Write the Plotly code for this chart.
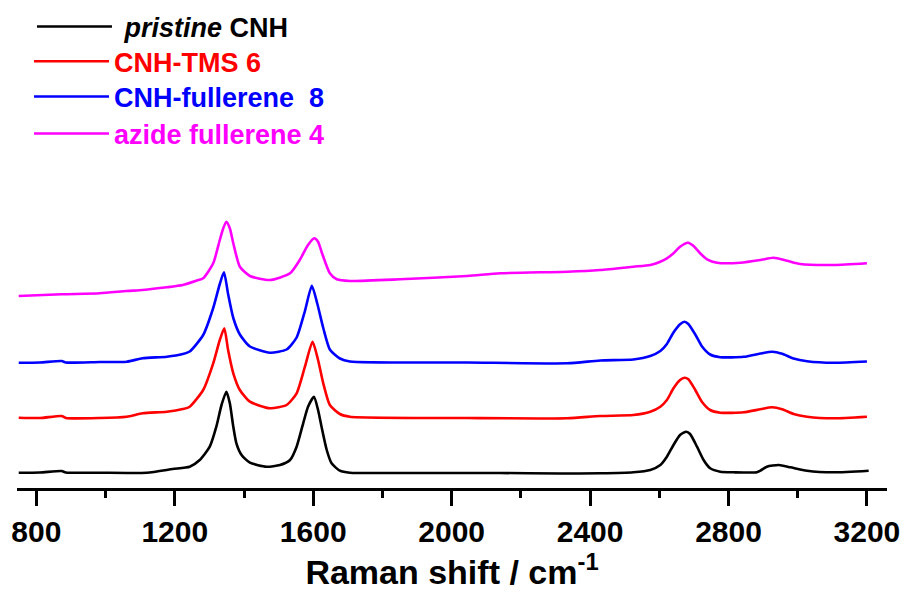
import plotly.graph_objects as go

# Raman shift (cm^-1) and intensity (a.u., curves stacked as drawn)
x_pristine = [749, 810, 873, 885, 983, 1119, 1194, 1243, 1272, 1301, 1320, 1335, 1349, 1359, 1369, 1378, 1393, 1417,
              1465, 1504, 1533, 1552, 1571, 1585, 1602, 1614, 1624, 1639, 1653, 1677, 1706, 1851, 2140, 2313,
              2429, 2525, 2574, 2603, 2622, 2641, 2660, 2678, 2689, 2709, 2728, 2747, 2776, 2815, 2882, 2892,
              2911, 2945, 2979, 3027, 3104, 3205]
y_pristine = [15.3, 15.5, 17.0, 15.5, 15.3, 15.3, 19.0, 21.3, 28.0, 41.3, 61.3, 83.0, 96.3, 84.7, 61.3, 44.7, 33.0, 25.3,
              21.3, 23.0, 28.0, 41.3, 64.7, 81.3, 91.3, 78.0, 61.3, 38.0, 24.7, 17.3, 15.3, 15.0, 15.0, 14.5,
              14.7, 15.7, 18.0, 23.0, 31.3, 43.0, 53.0, 56.3, 54.0, 41.3, 28.0, 19.7, 16.3, 15.7, 15.7, 17.3,
              21.3, 23.0, 20.7, 17.3, 15.7, 17.3]

x_tms = [749, 810, 873, 885, 983, 1061, 1107, 1177, 1223, 1243, 1282, 1311, 1330, 1343, 1354, 1369, 1388, 1417,
         1475, 1523, 1552, 1576, 1598, 1614, 1629, 1648, 1677, 1706, 2045, 2334, 2429, 2525, 2574, 2603, 2622,
         2641, 2660, 2673, 2684, 2704, 2723, 2747, 2776, 2844, 2892, 2926, 2955, 2988, 3027, 3104, 3200]
y_tms = [70.3, 70.0, 72.0, 70.0, 70.0, 71.3, 74.7, 76.3, 79.0, 81.3, 98.0, 124.7, 148.0, 159.7, 138.0, 114.7, 98.0, 86.3,
         79.7, 83.0, 94.7, 121.3, 146.3, 128.0, 104.7, 83.0, 74.0, 71.3, 70.0, 69.7, 72.0, 73.0, 76.3, 81.3, 88.0,
         99.7, 108.0, 110.3, 108.7, 98.0, 86.3, 78.0, 75.3, 75.7, 78.7, 80.7, 78.7, 74.0, 71.3, 69.7, 71.3]

x_fullerene = [749, 810, 873, 885, 983, 1061, 1107, 1177, 1223, 1243, 1282, 1311, 1330, 1342, 1354, 1369, 1388, 1417,
               1475, 1523, 1552, 1576, 1596, 1612, 1629, 1648, 1677, 1706, 2045, 2334, 2429, 2525, 2574, 2603, 2622,
               2641, 2660, 2673, 2684, 2704, 2723, 2747, 2776, 2844, 2892, 2927, 2955, 2988, 3027, 3104, 3200]
y_fullerene = [125.3, 125.5, 127.0, 125.5, 126.0, 126.3, 129.7, 131.3, 134.0, 136.5, 153.0, 180.0, 204.0, 215.8, 194.0, 170.0, 153.5, 141.5,
               135.3, 138.5, 150.5, 177.0, 202.3, 184.0, 160.0, 138.5, 129.5, 126.5, 125.5, 124.7, 127.5, 128.5, 132.0, 137.0, 144.0,
               155.5, 163.8, 166.3, 164.0, 153.5, 141.8, 133.5, 130.8, 131.2, 134.5, 136.3, 134.2, 129.5, 126.8, 125.2, 126.5]

x_azide = [749, 873, 983, 1061, 1107, 1177, 1223, 1264, 1282, 1311, 1330, 1340, 1349, 1359, 1369, 1388, 1417, 1475,
           1533, 1561, 1585, 1603, 1614, 1624, 1648, 1668, 1706, 1851, 2045, 2140, 2334, 2429, 2525, 2574, 2603,
           2622, 2641, 2660, 2683, 2699, 2718, 2738, 2767, 2834, 2892, 2930, 2969, 3007, 3104, 3200]
y_azide = [192.0, 193.7, 194.7, 197.0, 198.0, 200.7, 203.0, 207.5, 209.7, 224.7, 248.0, 259.7, 266.3, 259.7, 244.7, 221.3, 212.0, 208.0,
           214.7, 228.0, 243.0, 249.7, 246.3, 236.3, 214.7, 208.7, 207.0, 208.7, 212.0, 214.7, 216.3, 218.0, 221.3, 223.0, 226.3,
           229.7, 234.7, 241.3, 245.3, 242.0, 234.7, 228.7, 225.3, 225.3, 228.0, 230.3, 227.3, 224.0, 223.0, 224.7]

series_names = ["\u00a0<i>pristine</i> CNH", "CNH-TMS 6", "CNH-fullerene  8", "azide fullerene 4"]
series_colors = ["#000000", "#ff0000", "#0000ff", "#ff00ff"]
series_x = [x_pristine, x_tms, x_fullerene, x_azide]
series_y = [y_pristine, y_tms, y_fullerene, y_azide]
legend_ids = ["legend", "legend2", "legend3", "legend4"]

tick_vals = [800, 1200, 1600, 2000, 2400, 2800, 3200]
tick_text = ["800", "1200", "1600", "2000", "2400", "2800", "3200"]

fig = go.Figure()
for name, color, xs, ys, lg in zip(series_names, series_colors, series_x, series_y, legend_ids):
    fig.add_trace(go.Scatter(x=xs, y=ys, mode="lines", legend=lg,
                             name=f'<span style="color:{color}">{name}</span>',
                             line=dict(color=color, width=2.6, shape="spline", smoothing=0.6)))

# one legend box per entry so each entry sits where the reference puts it
legend_pos = [(0.0172, 0.9447), (0.0138, 0.8736), (0.0138, 0.8012), (0.0138, 0.7254)]
legend_layout = {}
for lg, (lx, ly) in zip(legend_ids, legend_pos):
    legend_layout[lg] = dict(x=lx, y=ly, xanchor="left", yanchor="middle",
                             font=dict(size=27, weight="bold"), itemwidth=75,
                             bgcolor="rgba(0,0,0,0)", borderwidth=0)

fig.update_layout(
    width=908, height=592,
    margin=dict(l=17, r=21, t=0, b=104),
    paper_bgcolor="white", plot_bgcolor="white",
    font=dict(family="Liberation Sans, Arial, sans-serif", color="black"),
    showlegend=True,
    **legend_layout,
    xaxis=dict(range=[744, 3258], showgrid=False, zeroline=False,
               showline=True, linewidth=3, linecolor="black",
               ticks="outside", ticklen=15, tickwidth=3, tickcolor="black",
               tickvals=tick_vals, ticktext=tick_text,
               tickfont=dict(size=30, weight="bold", color="black"),
               minor=dict(ticks="outside", ticklen=7, tickwidth=3, tickcolor="black",
                          tick0=800, dtick=200),
               title=dict(text="Raman shift / cm<sup>-1</sup>",
                          font=dict(size=34, weight="bold", color="black"), standoff=6)),
    yaxis=dict(range=[0, 488], visible=False, showgrid=False, zeroline=False),
)

fig.write_html("out.html")
